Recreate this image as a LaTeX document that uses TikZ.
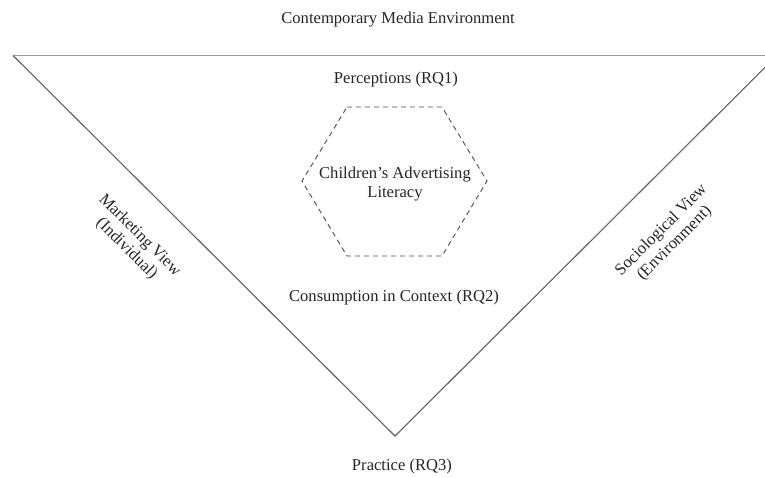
\documentclass[tikz,border=0pt]{standalone}
\usepackage{fontspec}
\setmainfont{Liberation Serif}
\begin{document}
\begin{tikzpicture}[x=1pt,y=-1pt,
  lbl/.style={text=black!85, font=\fontsize{16.6}{18.5}\selectfont, align=center, inner sep=0pt},
  edge/.style={draw=black!62, line width=1.1pt},
  rim/.style={draw=black!40, line width=1.6pt},
  hexline/.style={draw=black!70, line width=0.9pt, dash pattern=on 5pt off 4pt}]
\useasboundingbox (0,0) rectangle (765,477);
\clip (0,0) rectangle (765,477);
\fill[white] (0,0) rectangle (765,477);

% inverted triangle
\coordinate (tl) at (13,55.5);
\coordinate (tr) at (777,55.5);
\coordinate (bv) at (395,436);
\draw[rim] (tl) -- (tr);
\draw[edge] (tl) -- (bv) -- (tr);

% central hexagon
\coordinate (h1) at (347,107);
\coordinate (h2) at (442,107);
\coordinate (h3) at (487,181);
\coordinate (h4) at (442,256);
\coordinate (h5) at (347,256);
\coordinate (h6) at (302,181);
\draw[hexline] (h1) -- (h2) -- (h3) -- (h4) -- (h5) -- (h6) -- cycle;

% labels
\node[lbl] (env) at (398,20) {Contemporary Media Environment};
\node[lbl] (rq1) at (396,80) {Perceptions (RQ1)};
\node[lbl] (cal) at (395,184) {Children’s Advertising\\Literacy};
\node[lbl] (rq2) at (394,298) {Consumption in Context (RQ2)};
\node[lbl] (rq3) at (402,466) {Practice (RQ3)};
\node[lbl, rotate=-45] (mkt) at (133,242) {Marketing View\\(Individual)};
\node[lbl, rotate=45] (soc) at (668,237) {Sociological View\\(Environment)};
\end{tikzpicture}
\end{document}
